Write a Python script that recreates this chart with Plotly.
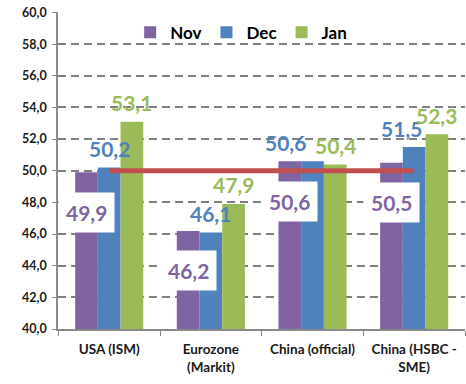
import plotly.graph_objects as go

categories = ["USA (ISM)", "Eurozone<br>(Markit)", "China (official)", "China (HSBC -<br>SME)"]
series_names = ["Nov", "Dec", "Jan"]
nov = [49.9, 46.2, 50.6, 50.5]
dec = [50.2, 46.1, 50.6, 51.5]
jan = [53.1, 47.9, 50.4, 52.3]
threshold = [50, 50, 50, 50]

colors = ["#8064A2", "#4F81BD", "#9BBB59"]
line_color = "#C0504D"
FONT = "Lato"

# label placement styles (pixel shifts relative to bar top)
label_yshift = {"Nov": -40, "Dec": 19, "Jan": 19}
dec_xshift = [0, 0, -27, -13]

bargap = 0.33
bw = (1 - bargap) / 3

fig = go.Figure()
for name, vals, col in zip(series_names, [nov, dec, jan], colors):
    fig.add_trace(go.Bar(name=name, x=categories, y=vals, marker=dict(color=col, line=dict(width=0)),
                         hoverinfo="skip"))

fig.add_trace(go.Scatter(x=categories, y=threshold, mode="lines",
                         line=dict(color=line_color, width=5), showlegend=False, hoverinfo="skip"))

annotations = []
for si, (name, vals, col) in enumerate(zip(series_names, [nov, dec, jan], colors)):
    for i, v in enumerate(vals):
        xs = 0
        if name == "Dec":
            xs = dec_xshift[i]
        ann = dict(x=i + (si - 1) * bw, y=v, xref="x", yref="y",
                   text=f"{v:.1f}".replace(".", ","), showarrow=False,
                   yshift=label_yshift[name], xshift=xs,
                   font=dict(family=FONT, size=21, color=col, weight="bold"),
                   xanchor="center", yanchor="middle")
        if name == "Nov":
            ann.update(bgcolor="white", borderpad=7)
        annotations.append(ann)

fig.update_layout(
    width=466, height=384,
    margin=dict(l=58, r=1, t=12, b=55),
    paper_bgcolor="white", plot_bgcolor="white",
    barmode="group", bargap=bargap, bargroupgap=0,
    separators=", ",
    font=dict(family=FONT, color="#1a1a1a"),
    legend=dict(orientation="h", x=0.45, xanchor="center", y=0.935, yanchor="middle",
                font=dict(family=FONT, size=17, color="black", weight="bold"),
                bgcolor="rgba(0,0,0,0)", itemwidth=30, traceorder="normal"),
    annotations=annotations,
    showlegend=True,
)
fig.update_yaxes(range=[40, 60.03], tickvals=[40, 42, 44, 46, 48, 50, 52, 54, 56, 58, 60], tickformat=".1f",
                 showgrid=True, gridcolor="#808080", gridwidth=2, griddash="8px,5px",
                 showline=True, linecolor="#8a8a8a", linewidth=1.5,
                 ticks="outside", ticklen=4, tickcolor="#8a8a8a",
                 tickfont=dict(family=FONT, size=12.5, color="#1a1a1a", weight="bold"),
                 ticklabelstandoff=3,
                 zeroline=False)
fig.update_xaxes(showline=True, linecolor="#8a8a8a", linewidth=1.5,
                 ticks="outside", ticklen=5, tickcolor="#8a8a8a", tickson="boundaries",
                 tickfont=dict(family=FONT, size=13.5, color="#1a1a1a", weight="bold"),
                 ticklabelstandoff=7,
                 showgrid=False)

fig.write_html("out.html", config={"displayModeBar": False},
               post_script="document.body.style.margin='0';")
